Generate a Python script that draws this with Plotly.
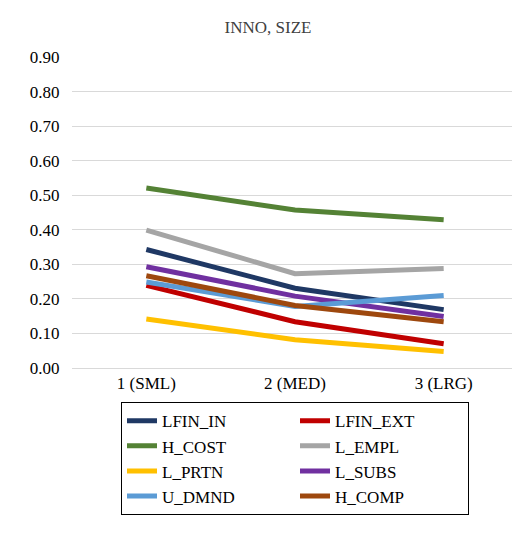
import plotly.graph_objects as go

categories = ["1 (SML)", "2 (MED)", "3 (LRG)"]
series_names = ["LFIN_IN", "LFIN_EXT", "H_COST", "L_EMPL", "L_PRTN", "L_SUBS", "U_DMND", "H_COMP"]
LFIN_IN = [0.343, 0.231, 0.169]
LFIN_EXT = [0.239, 0.134, 0.070]
H_COST = [0.521, 0.457, 0.429]
L_EMPL = [0.399, 0.273, 0.288]
L_PRTN = [0.142, 0.082, 0.048]
L_SUBS = [0.293, 0.208, 0.149]
U_DMND = [0.249, 0.178, 0.210]
H_COMP = [0.267, 0.181, 0.134]
colors = ["#1F3864", "#C00000", "#548235", "#A5A5A5", "#FFC000", "#7030A0", "#5B9BD5", "#9E480E"]
values = [LFIN_IN, LFIN_EXT, H_COST, L_EMPL, L_PRTN, L_SUBS, U_DMND, H_COMP]
xpos = list(range(1, len(categories) + 1))
fig = go.Figure()
for name, vals, c in zip(series_names, values, colors):
    fig.add_trace(go.Scatter(x=xpos, y=vals, name=name, mode="lines",
                             line=dict(color=c, width=5)))
fig.update_layout(
    width=520, height=533,
    margin=dict(l=64, r=10, t=49, b=173),
    paper_bgcolor="white", plot_bgcolor="white",
    font=dict(family="Liberation Serif", size=17, color="#000"),
    title=dict(text="INNO, SIZE", x=0.5, xanchor="center", y=0.975, yanchor="top",
               font=dict(size=17, color="#404040")),
    showlegend=True,
    legend=dict(orientation="h", x=0.5, xanchor="center", xref="paper", y=-0.11, yanchor="top",
                entrywidth=128, bordercolor="#000", borderwidth=1,
                font=dict(size=17), tracegroupgap=0),
    xaxis=dict(showgrid=False, showline=True, linecolor="#D9D9D9", linewidth=1,
               ticks="", tickfont=dict(size=17), range=[0.5, 3.5],
               tickvals=xpos, ticktext=categories),
    yaxis=dict(range=[0, 0.9], dtick=0.1, tickformat=".2f", showgrid=True,
               gridcolor="#D9D9D9", gridwidth=1.3, zeroline=False, ticks="outside",
               ticklen=8, tickcolor="white", tickfont=dict(size=17)),
)
fig.write_html("out.html")
